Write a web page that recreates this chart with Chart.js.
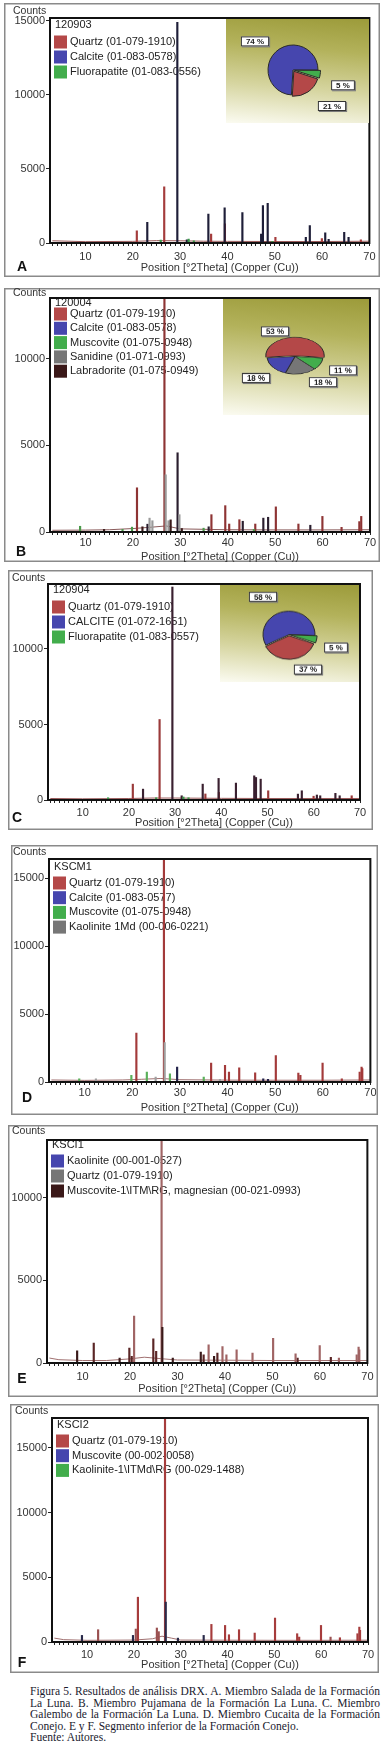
<!DOCTYPE html>
<html>
<head>
<meta charset="utf-8">
<script src="https://cdn.jsdelivr.net/npm/chart.js@4.4.1/dist/chart.umd.min.js"></script>
<style>
  body { margin: 0; width: 390px; height: 1756px; position: relative; overflow: hidden; background: #fff; }
  canvas { display: block; }
  .inset { position: absolute; overflow: hidden; background: linear-gradient(185deg, #9c9b3a 0%, #b3b25b 30%, #d6d5a0 65%, #fbfbf1 100%); }
  .inset canvas { position: absolute; left: 0; }
  .cap { position: absolute; left: 30px; top: 1686px; width: 350px; font-family: "Liberation Serif", "Times New Roman", serif;
         font-size: 11.5px; line-height: 11.6px; color: #1a1a2e; }
  .cap .j { text-align: justify; text-align-last: justify; }
</style>
</head>
<body>
<div class="cap">
  <div class="j">Figura 5. Resultados de análisis DRX. A. Miembro Salada de la Formación</div>
  <div class="j">La Luna. B. Miembro Pujamana de la Formación La Luna. C. Miembro</div>
  <div class="j">Galembo de la Formación La Luna. D. Miembro Cucaita de la Formación</div>
  <div>Conejo. E y F. Segmento inferior de la Formación Conejo.</div>
  <div>Fuente: Autores.</div>
</div>
<script>
// x axis (°2Theta)
const xTickLabels = [10, 20, 30, 40, 50, 60, 70];

// A - 120903
const aSample = '120903';
const aPhases = ['Quartz (01-079-1910)', 'Calcite (01-083-0578)', 'Fluorapatite (01-083-0556)'];
const aQuartzPos = [20.85, 26.64, 36.55, 39.47, 50.14, 59.96, 68.2];
const aQuartzCounts = [830, 3800, 600, 1300, 380, 300, 220];
const aCalcitePos = [23.06, 29.41, 31.42, 35.97, 39.41, 43.16, 47.12, 47.5, 48.51, 56.57, 57.41, 60.67, 61.39, 64.68, 65.6];
const aCalciteCounts = [1400, 14900, 220, 1960, 2370, 2050, 600, 2520, 2680, 380, 1170, 680, 250, 720, 380];
const aFluorPos = [25.9, 31.8, 32.9, 49.5];
const aFluorCounts = [200, 260, 150, 120];
const aBgPos = [3, 10, 20, 25, 30, 35, 40, 50, 60, 70];
const aBgCounts = [150, 90, 110, 160, 150, 120, 110, 100, 100, 120];
const aYTicks = [0, 5000, 10000, 15000];
const aPieLabels = ['Quartz', 'Calcite', 'Fluorapatite'];
const aPieValues = [21, 74, 5];

// B - 120004
const bSample = '120004';
const bPhases = ['Quartz (01-079-1910)', 'Calcite (01-083-0578)', 'Muscovite (01-075-0948)', 'Sanidine (01-071-0993)', 'Labradorite (01-075-0949)'];
const bQuartzPos = [20.85, 26.64, 36.55, 39.47, 40.3, 42.45, 45.8, 50.14, 54.9, 59.96, 64.0, 67.75, 68.15];
const bQuartzCounts = [2550, 16000, 1000, 1520, 460, 710, 460, 1450, 460, 900, 270, 600, 900];
const bCalcitePos = [23.06, 29.41, 35.97, 43.16, 47.5, 48.51, 57.41];
const bCalciteCounts = [450, 4570, 300, 620, 800, 850, 390];
const bMuscPos = [8.85, 17.8, 19.8, 34.9, 45.5];
const bMuscCounts = [330, 150, 280, 220, 150];
const bSanPos = [23.5, 24.1, 26.9, 27.5, 29.8];
const bSanCounts = [800, 650, 3300, 650, 1000];
const bLabPos = [13.9, 22.0, 27.95, 30.3];
const bLabCounts = [150, 300, 700, 200];
const bBgPos = [3, 10, 15, 20, 24, 27, 30, 40, 50, 60, 70];
const bBgCounts = [100, 110, 130, 200, 280, 350, 180, 130, 120, 120, 130];
const bYTicks = [0, 5000, 10000];
const bPieLabels = ['Quartz', 'Muscovite', 'Sanidine', 'Calcite'];
const bPieValues = [53, 11, 18, 18];

// C - 120904
const cSample = '120904';
const cPhases = ['Quartz (01-079-1910)', 'CALCITE (01-072-1651)', 'Fluorapatite (01-083-0557)'];
const cQuartzPos = [20.85, 26.64, 36.55, 39.47, 50.14, 59.96, 68.2];
const cQuartzCounts = [1050, 5330, 400, 500, 610, 250, 280];
const cCalcitePos = [23.06, 29.41, 31.42, 35.97, 39.41, 43.16, 47.12, 47.5, 48.51, 56.57, 57.41, 60.67, 61.39, 64.68, 65.6];
const cCalciteCounts = [720, 14100, 280, 1050, 1430, 1120, 1600, 1490, 1380, 390, 610, 330, 280, 440, 280];
const cFluorPos = [15.5, 25.9, 31.8, 32.9];
const cFluorCounts = [150, 150, 200, 150];
const cBgPos = [3, 10, 20, 25, 30, 40, 50, 60, 70];
const cBgCounts = [100, 80, 100, 130, 130, 110, 100, 100, 100];
const cYTicks = [0, 5000, 10000];
const cPieLabels = ['Quartz', 'CALCITE', 'Fluorapatite'];
const cPieValues = [37, 58, 5];

// D - KSCM1
const dSample = 'KSCM1';
const dPhases = ['Quartz (01-079-1910)', 'Calcite (01-083-0577)', 'Muscovite (01-075-0948)', 'Kaolinite 1Md (00-006-0221)'];
const dQuartzPos = [20.85, 26.64, 36.55, 39.47, 40.3, 42.45, 45.8, 50.14, 54.87, 55.3, 59.96, 64.0, 67.75, 68.15, 68.3];
const dQuartzCounts = [3590, 17000, 1390, 1220, 730, 1050, 680, 1950, 660, 490, 1390, 240, 730, 1100, 980];
const dCalcitePos = [29.41, 47.5, 48.5];
const dCalciteCounts = [1100, 240, 200];
const dMuscPos = [8.85, 19.8, 23.05, 27.9, 35.0];
const dMuscCounts = [240, 490, 730, 610, 370];
const dKaolPos = [12.35, 24.9, 26.8, 38.4];
const dKaolCounts = [240, 370, 2900, 200];
const dBgPos = [3, 10, 18, 22, 26, 30, 40, 50, 60, 70];
const dBgCounts = [150, 120, 150, 200, 260, 170, 140, 130, 130, 150];
const dYTicks = [0, 5000, 10000, 15000];

// E - KSCI1
const eSample = 'KSCI1';
const ePhases = ['Kaolinite (00-001-0527)', 'Quartz (01-079-1910)', 'Muscovite-1\\ITM\\RG, magnesian (00-021-0993)'];
const eKaolPos = [12.35, 19.85, 20.35, 24.9, 25.5, 35.5, 38.4, 55.3, 62.3];
const eKaolCounts = [1200, 900, 400, 1460, 700, 500, 600, 300, 340];
const eQuartzPos = [20.85, 26.64, 36.55, 39.47, 40.3, 42.45, 45.8, 50.14, 54.87, 59.96, 64.0, 67.75, 68.15, 68.3];
const eQuartzCounts = [2840, 16000, 1100, 1000, 500, 800, 600, 1500, 560, 1060, 300, 500, 960, 800];
const eMuscPos = [8.85, 17.8, 26.8, 29.0, 34.9, 37.7];
const eMuscCounts = [740, 300, 2160, 300, 660, 400];
const eBgPos = [3, 5, 10, 15, 20, 23, 27, 30, 40, 50, 60, 70];
const eBgCounts = [300, 200, 150, 150, 250, 350, 250, 180, 170, 150, 150, 150];
const eYTicks = [0, 5000, 10000];

// F - KSCI2
const fSample = 'KSCI2';
const fPhases = ['Quartz (01-079-1910)', 'Muscovite (00-002-0058)', 'Kaolinite-1\\ITMd\\RG (00-029-1488)'];
const fQuartzPos = [20.85, 26.64, 36.55, 39.47, 40.3, 42.45, 45.8, 50.14, 54.87, 55.3, 59.96, 64.0, 67.75, 68.15, 68.3];
const fQuartzCounts = [3460, 18000, 1360, 1280, 560, 950, 690, 1850, 640, 380, 1280, 330, 640, 1150, 900];
const fMuscPos = [8.9, 19.8, 26.8, 29.4, 34.9];
const fMuscCounts = [510, 510, 3080, 300, 510];
const fKaolPos = [12.35, 20.4, 24.9, 25.3, 62.0];
const fKaolCounts = [950, 1000, 1080, 800, 380];
const fBgPos = [3, 5, 10, 20, 24, 26, 28, 30, 40, 50, 60, 70];
const fBgCounts = [300, 180, 130, 150, 250, 450, 300, 150, 140, 130, 130, 140];
const fYTicks = [0, 5000, 10000, 15000];

// colours
const RED = '#b44848', BLUE = '#4646ae', GREEN = '#42ad4c', GRAY = '#767676', DARK = '#3a1818';
const FONT = '"Liberation Sans", Arial, sans-serif';
Chart.defaults.font.family = FONT;
Chart.defaults.color = '#333';

// page positions: frame [x, y, w, h], plot [left, top, right, bottom]
// pie label placement: nudge (deg) and distance (x radius) per slice
const panels = [
  { id: 'A', frame: [4, 3, 376, 274], plot: [50, 18, 370, 243], yMax: 15200, yTicks: aYTicks,
    sample: aSample, phases: aPhases,
    peaks: [[aQuartzPos, aQuartzCounts], [aCalcitePos, aCalciteCounts], [aFluorPos, aFluorCounts]],
    bg: [aBgPos, aBgCounts], bgColor: '#9a5a5a',
    swatch: [RED, BLUE, GREEN], stick: ['#a43c3c', '#1e1e38', '#3a9a4a'],
    leg: [7, 24, 15], counts: [13, 11], letter: [22, 267], titleY: 268, tickDy: 14,
    pie: { labels: aPieLabels, values: aPieValues, colors: [RED, BLUE, GREEN], box: [226, 19, 369, 123],
           c: [293, 70], r: 25, rot: 108, off: [6, 0, 6], sy: 1,
           nudge: [-13, -10, 8], k: [2.12, 1.91, 2.09] } },
  { id: 'B', frame: [4, 288, 376, 274], plot: [50, 298, 370, 532], yMax: 13500, yTicks: bYTicks,
    sample: bSample, phases: bPhases,
    peaks: [[bQuartzPos, bQuartzCounts], [bCalcitePos, bCalciteCounts], [bMuscPos, bMuscCounts], [bSanPos, bSanCounts], [bLabPos, bLabCounts]],
    bg: [bBgPos, bBgCounts], bgColor: '#8a5a5a',
    swatch: [RED, BLUE, GREEN, GRAY, DARK], stick: ['#8e3434', '#2a1e2e', '#4a9a4a', '#9a9a9a', '#3a1a1a'],
    leg: [5, 16, 14.3], counts: [13, 293], letter: [21, 552], titleY: 557, tickDy: 11,
    pie: { labels: bPieLabels, values: bPieValues, colors: [RED, GREEN, GRAY, BLUE], box: [223, 299, 369, 415],
           c: [295, 356], r: 28, rot: 265, off: [5, 0, 0, 0], sy: 0.63,
           nudge: [-27, -1, -22, -3.5], k: [1.59, 1.89, 1.76, 1.86] } },
  { id: 'C', frame: [8, 570, 365, 260], plot: [48, 584, 360, 800], yMax: 14300, yTicks: cYTicks,
    sample: cSample, phases: cPhases,
    peaks: [[cQuartzPos, cQuartzCounts], [cCalcitePos, cCalciteCounts], [cFluorPos, cFluorCounts]],
    bg: [cBgPos, cBgCounts], bgColor: '#9a5a5a',
    swatch: [RED, BLUE, GREEN], stick: ['#9a3a3a', '#3a2030', '#3a9a4a'],
    leg: [6, 23, 15], counts: [12, 578], letter: [17, 818], titleY: 823, tickDy: 13,
    pie: { labels: cPieLabels, values: cPieValues, colors: [RED, BLUE, GREEN], box: [220, 585, 359, 682],
           c: [289, 635], r: 26, rot: 110, off: [5, 0, 5], sy: 0.9,
           nudge: [-22.5, -19.5, 6], k: [1.66, 1.9, 1.9] } },
  { id: 'D', frame: [11, 845, 367, 270], plot: [49, 859, 371, 1082], yMax: 16400, yTicks: dYTicks,
    sample: dSample, phases: dPhases,
    peaks: [[dQuartzPos, dQuartzCounts], [dCalcitePos, dCalciteCounts], [dMuscPos, dMuscCounts], [dKaolPos, dKaolCounts]],
    bg: [dBgPos, dBgCounts], bgColor: '#a07070',
    swatch: [RED, BLUE, GREEN, GRAY], stick: ['#a33a3a', '#22224a', '#5ab05a', '#a0a0a0'],
    leg: [8, 24, 14.7], counts: [13, 852], letter: [27, 1098], titleY: 1108, tickDy: 11 },
  { id: 'E', frame: [8, 1125, 370, 272], plot: [47, 1140, 368, 1363], yMax: 13500, yTicks: eYTicks,
    sample: eSample, phases: ePhases,
    peaks: [[eKaolPos, eKaolCounts], [eQuartzPos, eQuartzCounts], [eMuscPos, eMuscCounts]],
    bg: [eBgPos, eBgCounts], bgColor: '#a07070',
    swatch: [BLUE, GRAY, DARK], stick: ['#5a2626', '#a06464', '#3a1a1a'],
    leg: [5, 21, 15], counts: [12, 1131], letter: [22, 1379], titleY: 1389, tickDy: 14 },
  { id: 'F', frame: [10, 1404, 369, 269], plot: [52, 1418, 368, 1642], yMax: 17300, yTicks: fYTicks,
    sample: fSample, phases: fPhases,
    peaks: [[fQuartzPos, fQuartzCounts], [fMuscPos, fMuscCounts], [fKaolPos, fKaolCounts]],
    bg: [fBgPos, fBgCounts], bgColor: '#a07070',
    swatch: [RED, BLUE, GREEN], stick: ['#a63c3c', '#2a2a4a', '#9a5050'],
    leg: [7, 23, 14.7], counts: [15, 1411], letter: [22, 1663], titleY: 1665, tickDy: 13 }
];

// minor ticks every degree along the 2Theta axis
const minorTicks = Array.from({ length: 68 }, (_, i) => i + 3);

function pts(pos, counts) {
  return pos.map((x, i) => ({ x, y: counts[i] }));
}

function makeDecor(p) {
  const fx = p.frame[0], fy = p.frame[1];
  return {
    id: 'decor',
    beforeDatasetsDraw(chart) {
      const { ctx, chartArea: a } = chart;
      ctx.save();
      ctx.textBaseline = 'middle';
      ctx.font = '11px ' + FONT;
      ctx.fillStyle = '#222';
      ctx.fillText(p.sample, a.left + 5, a.top + p.leg[0]);
      p.phases.forEach((name, i) => {
        const y = a.top + p.leg[1] + i * p.leg[2];
        ctx.fillStyle = p.swatch[i];
        ctx.fillRect(a.left + 4, y - 6.5, 13, 13);
        ctx.fillStyle = '#222';
        ctx.fillText(name, a.left + 20, y);
      });
      ctx.restore();
    },
    afterDraw(chart) {
      const { ctx, chartArea: a, width, height } = chart;
      ctx.save();
      ctx.strokeStyle = '#8a8a8a';
      ctx.lineWidth = 1.5;
      ctx.strokeRect(0.75, 0.75, width - 1.5, height - 1.5);
      ctx.strokeStyle = '#111';
      ctx.lineWidth = 2;
      ctx.strokeRect(a.left, a.top, a.right - a.left, a.bottom - a.top);
      ctx.textBaseline = 'middle';
      ctx.fillStyle = '#333';
      ctx.font = '10.5px ' + FONT;
      ctx.fillText('Counts', p.counts[0] - fx, p.counts[1] - fy);
      ctx.textAlign = 'center';
      ctx.font = '11px ' + FONT;
      ctx.fillText('Position [°2Theta] (Copper (Cu))', (a.left + a.right) / 2 + 10, p.titleY - fy);
      ctx.fillStyle = '#111';
      ctx.font = 'bold 14px ' + FONT;
      ctx.fillText(p.id, p.letter[0] - fx, p.letter[1] - fy);
      ctx.restore();
    }
  };
}

function makePieLabels(pie) {
  return {
    id: 'pieLabels',
    afterDatasetsDraw(chart) {
      const { ctx } = chart;
      const meta = chart.getDatasetMeta(0);
      ctx.save();
      ctx.font = 'bold 8px ' + FONT;
      ctx.textAlign = 'center';
      ctx.textBaseline = 'middle';
      meta.data.forEach((arc, i) => {
        const { x, y, startAngle, endAngle, outerRadius } =
          arc.getProps(['x', 'y', 'startAngle', 'endAngle', 'outerRadius'], true);
        const mid = (startAngle + endAngle) / 2 + pie.nudge[i] * Math.PI / 180;
        const lx = x + Math.cos(mid) * outerRadius * pie.k[i];
        const ly = y + Math.sin(mid) * outerRadius * pie.k[i];
        const txt = chart.data.datasets[0].data[i] + ' %';
        const w = ctx.measureText(txt).width + 10, h = 10;
        ctx.save();
        ctx.translate(Math.round(lx), ly);
        ctx.scale(1, 1 / pie.sy);
        ctx.fillStyle = '#7a7a7a';
        ctx.fillRect(-w / 2 + 1, -h / 2 + 1, w, h);
        ctx.fillStyle = '#fff';
        ctx.fillRect(-w / 2, -h / 2, w, h);
        ctx.strokeStyle = '#333';
        ctx.lineWidth = 1;
        ctx.strokeRect(-w / 2 + 0.5, -h / 2 + 0.5, w - 1, h - 1);
        ctx.fillStyle = '#222';
        ctx.fillText(txt, 0, 0.5);
        ctx.restore();
      });
      ctx.restore();
    }
  };
}

function buildPanel(p) {
  const [fx, fy, fw, fh] = p.frame;
  const [pl, pt, pr, pb] = p.plot;
  const wrap = document.createElement('div');
  wrap.style.cssText = `position:absolute;left:${fx}px;top:${fy}px;width:${fw}px;height:${fh}px`;
  const cv = document.createElement('canvas');
  cv.width = fw;
  cv.height = fh;
  wrap.appendChild(cv);
  document.body.appendChild(wrap);

  const datasets = p.peaks.map((pk, i) => ({
    type: 'bar',
    label: p.phases[i],
    data: pts(pk[0], pk[1]),
    backgroundColor: p.stick[i],
    barThickness: 1.5,
    grouped: false,
    order: p.peaks.length - i
  }));
  datasets.push({
    type: 'line',
    label: 'background',
    data: pts(p.bg[0], p.bg[1]),
    borderColor: p.bgColor,
    borderWidth: 1,
    pointRadius: 0,
    order: 10
  });

  new Chart(cv, {
    type: 'bar',
    data: { datasets },
    options: {
      responsive: false,
      animation: false,
      events: [],
      devicePixelRatio: 1,
      layout: { padding: { left: 0, top: pt - fy, right: fx + fw - pr, bottom: 0 } },
      plugins: { legend: { display: false }, tooltip: { enabled: false } },
      scales: {
        x: {
          type: 'linear',
          min: 2.5,
          max: 70,
          offset: false,
          afterBuildTicks: s => { s.ticks = minorTicks.map(v => ({ value: v })); },
          afterFit: s => { s.height = fy + fh - pb; },
          grid: { drawOnChartArea: false, tickLength: 3, color: '#222', offset: false },
          border: { display: false },
          ticks: {
            autoSkip: false, maxRotation: 0, minRotation: 0,
            padding: Math.max(p.tickDy - 9.5, 0),
            color: '#333', font: { size: 11 },
            callback: v => (xTickLabels.includes(v) ? String(v) : '')
          }
        },
        y: {
          min: 0,
          max: p.yMax,
          afterBuildTicks: s => { s.ticks = p.yTicks.map(v => ({ value: v })); },
          afterFit: s => { s.width = pl - fx; },
          grid: { drawOnChartArea: false, tickLength: 4, color: '#222' },
          border: { display: false },
          ticks: { padding: 1, color: '#333', font: { size: 11 }, callback: v => String(v) }
        }
      }
    },
    plugins: [makeDecor(p)]
  });
}

function buildInset(p) {
  const pie = p.pie;
  const [bx1, by1, bx2, by2] = pie.box;
  const bw = bx2 - bx1, bh = by2 - by1;
  const box = document.createElement('div');
  box.className = 'inset';
  box.style.left = bx1 + 'px';
  box.style.top = by1 + 'px';
  box.style.width = bw + 'px';
  box.style.height = bh + 'px';

  // canvas is drawn unsquashed and then scaled vertically about the pie centre
  const cx = pie.c[0] - bx1;
  const cyBox = pie.c[1] - by1;
  const cy = cyBox / pie.sy;
  const ch = Math.round(bh / pie.sy);
  const cv = document.createElement('canvas');
  cv.width = bw;
  cv.height = ch;
  cv.style.top = (cyBox - cy) + 'px';
  if (pie.sy !== 1) {
    cv.style.transform = `scaleY(${pie.sy})`;
    cv.style.transformOrigin = `${cx}px ${cy}px`;
  }
  box.appendChild(cv);
  document.body.appendChild(box);

  const S = pie.r + 8;
  new Chart(cv, {
    type: 'pie',
    data: {
      labels: pie.labels,
      datasets: [{
        data: pie.values,
        backgroundColor: pie.colors,
        borderColor: '#2a2a2a',
        borderWidth: 1,
        offset: pie.off,
        radius: pie.r
      }]
    },
    options: {
      responsive: false,
      animation: false,
      events: [],
      devicePixelRatio: 1,
      rotation: pie.rot,
      layout: {
        padding: { left: cx - S, right: bw - cx - S, top: cy - S, bottom: ch - cy - S }
      },
      plugins: { legend: { display: false }, tooltip: { enabled: false } }
    },
    plugins: [makePieLabels(pie)]
  });
}

panels.forEach(buildPanel);
panels.filter(p => p.pie).forEach(buildInset);
</script>
</body>
</html>
